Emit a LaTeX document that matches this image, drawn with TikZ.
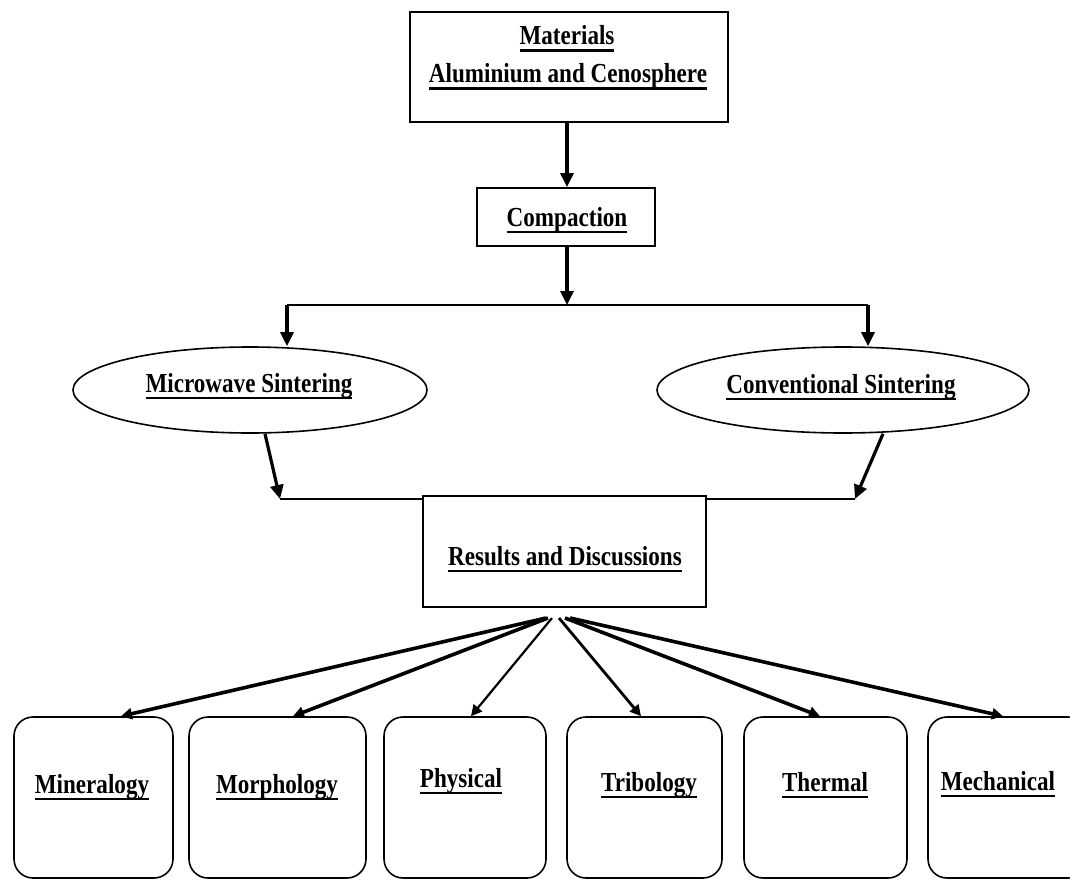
\documentclass[tikz,border=0pt]{standalone}
\usepackage{fontspec}
\setmainfont{Liberation Serif}[FakeStretch=0.84]
\usetikzlibrary{arrows.meta,shapes.geometric}
\newcommand\ulx[1]{\setbox0=\hbox{#1}\rlap{\vrule height -4.5pt depth 6.7pt width \wd0}\box0}
\begin{document}
\begin{tikzpicture}[x=1pt,y=-1pt,
  box/.style={draw, line width=1.8pt, rectangle, inner sep=0pt},
  rbox/.style={draw, line width=1.6pt, rectangle, rounded corners=19pt, inner sep=0pt, minimum height=161pt},
  ell/.style={draw, line width=1.6pt, ellipse, inner sep=0pt},
  lbl/.style={font=\fontsize{27.5}{30}\selectfont\bfseries, inner sep=0pt, anchor=base},
  conn/.style={line width=1.8pt},
  arr/.style={line width=3.2pt, -{Triangle[length=14pt,width=13pt]}},
  farr/.style={line width=3.6pt, -{Triangle[length=11pt,width=11pt]}}]
\useasboundingbox (0,0) rectangle (1070,880);
% top
\node[box, minimum width=318pt, minimum height=110pt] (mat) at (569,67) {};
\node[lbl] (mat1) at (567,45) {\ulx{Materials}};
\node[lbl] (mat2) at (568,83) {\ulx{Aluminium and Cenosphere}};
\node[box, minimum width=178pt, minimum height=58pt] (comp) at (566,217) {};
\node[lbl] (compt) at (567,226) {\ulx{Compaction}};
\draw[arr] (mat.south -| 567,0) -- (comp.north -| 567,0);
\coordinate (split) at (567,305);
\coordinate (sl) at (287,305);
\coordinate (sr) at (868,305);
\draw[arr] (comp.south -| split) -- (split);
\draw[conn] (sl) -- (sr);
% ellipses
\node[ell, minimum width=354pt, minimum height=86pt] (ms) at (250,390) {};
\node[lbl] (mst) at (249,392) {\ulx{Microwave Sintering}};
\node[ell, minimum width=372pt, minimum height=86pt] (cs) at (843,390) {};
\node[lbl] (cst) at (841,393) {\ulx{Conventional Sintering}};
\draw[arr] (sl) -- (sl |- ms.north);
\draw[arr] (sr) -- (sr |- cs.north);
% results
\node[box, minimum width=283pt, minimum height=111pt] (rd) at (564.5,551.5) {};
\node[lbl] (rdt) at (565,565) {\ulx{Results and Discussions}};
\coordinate (jl) at (280,499);
\coordinate (jr) at (855,499);
\draw[arr] ([xshift=15pt]ms.south) -- (jl);
\draw[arr] ([xshift=40pt]cs.south) -- (jr);
\draw[conn] (jl) -- (rd.west |- jl);
\draw[conn] (rd.east |- jr) -- (jr);
% bottom boxes
\node[rbox, minimum width=159pt] (min) at (93.5,797.5) {};
\node[rbox, minimum width=177pt] (mor) at (277.5,797.5) {};
\node[rbox, minimum width=162pt] (phy) at (465,797.5) {};
\node[rbox, minimum width=155pt] (tri) at (644.5,797.5) {};
\node[rbox, minimum width=163pt] (the) at (825.5,797.5) {};
\node[rbox, minimum width=159pt] (mec) at (1007.5,797.5) {};
\node[lbl] (mint) at (92,793) {\ulx{Mineralogy}};
\node[lbl] (mort) at (277,793) {\ulx{Morphology}};
\node[lbl] (phyt) at (461,787) {\ulx{Physical}};
\node[lbl] (trit) at (649,791) {\ulx{Tribology}};
\node[lbl] (thet) at (825,791) {\ulx{Thermal}};
\node[lbl] (mect) at (998,790) {\ulx{Mechanical}};
\coordinate (fan) at (556,618);
\draw[farr] ([xshift=-10pt]fan) -- ([xshift=27.5pt]min.north);
\draw[farr] ([xshift=-8pt]fan) -- ([xshift=15.5pt]mor.north);
\draw[farr, line width=2.2pt] ([xshift=-4pt]fan) -- ([xshift=6pt]phy.north);
\draw[farr, line width=2.8pt] ([xshift=3pt]fan) -- ([xshift=-3.5pt]tri.north);
\draw[farr] ([xshift=9pt]fan) -- ([xshift=-5.5pt]the.north);
\draw[farr] ([xshift=14pt]fan) -- ([xshift=-4.5pt]mec.north);
\end{tikzpicture}
\end{document}
